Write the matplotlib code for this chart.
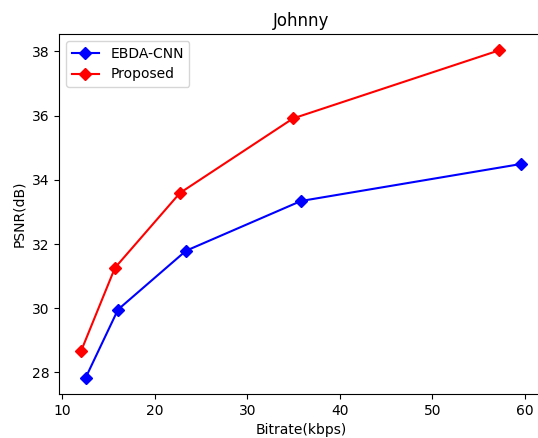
import matplotlib
matplotlib.use("Agg")
import matplotlib.pyplot as plt

ebda_rate = [12.56, 16.05, 23.39, 35.81, 59.53]
ebda_psnr = [27.84, 29.96, 31.79, 33.34, 34.49]
prop_rate = [12.05, 15.72, 22.74, 34.95, 57.2]
prop_psnr = [28.66, 31.26, 33.59, 35.91, 38.03]

fig = plt.figure(figsize=(5.38, 4.38), dpi=100)
ax = fig.add_axes([59 / 538, 44 / 438, 483.6 / 538, 360 / 438])
ax.plot(ebda_rate, ebda_psnr, marker='D', color='blue', label='EBDA-CNN')
ax.plot(prop_rate, prop_psnr, marker='D', color='red', label='Proposed')
ax.set_xlabel("Bitrate(kbps)")
ax.set_ylabel("PSNR(dB)")
ax.set_title("Johnny")
ax.legend(loc='upper left')
fig.savefig("out.png", dpi=100)
